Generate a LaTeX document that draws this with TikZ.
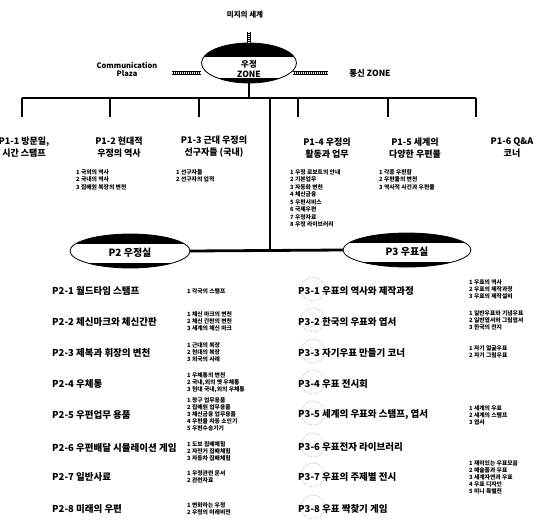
\documentclass[tikz,border=0pt]{standalone}
\usepackage{fontspec}
\setmainfont{Noto Sans CJK KR}
\usetikzlibrary{shapes.geometric}

\begin{document}
\begin{tikzpicture}[x=1pt, y=-1pt,
  every node/.style={inner sep=0pt, align=center},
  disc/.style={ellipse, fill=black, inner sep=0pt},
  rope/.style={line width=4pt},
  ropeIn/.style={white, line width=2.4pt, dash pattern=on 0.8pt off 1.2pt},
  bar/.style={line width=2.8pt},
  drop/.style={line width=2pt},
  titleT/.style={font=\fontsize{7.5}{8}\selectfont\bfseries},
  zoneT/.style={font=\fontsize{8.5}{9.5}\selectfont\bfseries},
  headP/.style={font=\fontsize{9}{12}\selectfont\bfseries, align=center},
  listP/.style={font=\fontsize{5.8}{7.5}\selectfont\bfseries, align=left, anchor=north west},
  roomL/.style={font=\fontsize{9.5}{11}\selectfont\bfseries, anchor=west},
  listR/.style={font=\fontsize{5.8}{7}\selectfont\bfseries, align=left, anchor=west},
  ring/.style={gray!70, densely dotted, line width=0.6pt}
]
\useasboundingbox (0,0) rectangle (560,523);

% TOP: ZONE
\node[titleT] (world) at (245,15) {미지의 세계};
\node[disc, minimum width=95pt, minimum height=40pt] (zone) at (249,63) {};
\begin{scope}
  \clip (249,63) ellipse (47.5pt and 20pt);
  \fill[white] (195,57) rectangle (305,78);
\end{scope}
\draw[line width=0.8pt] (249,63) ellipse (47.5pt and 20pt);
\node[zoneT] (zoneL) at (249,69) {우정\\ZONE};
\coordinate (ropeT) at (249,32);
\coordinate (ropeL) at (172,73);
\coordinate (ropeR) at (328,73);
\draw[rope] (ropeT) -- (zone.north);
\draw[ropeIn] (ropeT) -- (zone.north);
\draw[rope] (ropeL) -- (ropeL -| zone.west);
\draw[ropeIn] (ropeL) -- ([xshift=1pt]ropeL -| zone.west);
\draw[rope] (ropeR) -- ([xshift=-4pt]ropeR -| zone.east);
\draw[ropeIn] (ropeR) -- ([xshift=-4pt]ropeR -| zone.east);
\node[font=\fontsize{7.5}{8}\selectfont\bfseries] (plaza) at (127,69) {Communication\\Plaza};
\node[zoneT] (tongsin) at (370,73) {통신 ZONE};

% BAR AND DROPS
\coordinate (barL) at (22,98);
\coordinate (barR) at (476,98);
\draw[bar] (barL) -- (barR);
\draw[drop] (zone.south) -- (zone.south |- barL);
\foreach \x/\n in {22/d1,110/d2,199/d3,298/d4,388/d5,476/d6}{
  \coordinate (\n) at (\x,117);
  \draw[drop] (\n |- barL) -- (\n);
}

% ROW 1: P1
\node[headP] (p11) at (24,147) {P1-1 방문일,\\시간 스탬프};
\node[headP] (p12) at (119,147) {P1-2 현대적\\우정의 역사};
\node[headP] (p13) at (214,147) {P1-3 근대 우정의\\선구자들 (국내)};
\node[headP] (p14) at (327,148) {P1-4 우정의\\활동과 업무};
\node[headP] (p15) at (415,148) {P1-5 세계의\\다양한 우편물};
\node[headP] (p16) at (512,148) {P1-6 Q\&A\\코너};
\node[listP] (l12) at (76,169) {1 국외의 역사\\2 국내의 역사\\3 집배원 복장의 변천};
\node[listP] (l13) at (176,169) {1 선구자들\\2 선구자의 업적};
\node[listP] (l14) at (290,169) {1 우정 로보트의 안내\\2 기본업무\\3 자동화 변천\\4 체신금융\\5 우편서비스\\6 국제우편\\7 우정자료\\8 우정 라이브러리};
\node[listP] (l15) at (379,169) {1 각종 우편함\\2 우편물의 변천\\3 역사적 사건과 우편물};

% TRUNK TO P2 / P3
\coordinate (trunk) at (270,250);
\draw[bar] (trunk |- barL) -- (trunk);

\node[disc, minimum width=120pt, minimum height=34pt] (p2) at (130,251) {};
\begin{scope}
  \clip (130,251) ellipse (60pt and 17pt);
  \fill[white] (65,244) rectangle (195,263);
\end{scope}
\draw[line width=0.8pt] (130,251) ellipse (60pt and 17pt);
\node[font=\fontsize{10}{11}\selectfont\bfseries] (p2t) at (130,253) {P2 우정실};

\node[disc, minimum width=128pt, minimum height=34pt] (p3) at (407,250) {};
\begin{scope}
  \clip (407,250) ellipse (64pt and 17pt);
  \fill[white] (340,243) rectangle (475,262);
\end{scope}
\draw[line width=0.8pt] (407,250) ellipse (64pt and 17pt);
\node[font=\fontsize{10}{11}\selectfont\bfseries] (p3t) at (407,252) {P3 우표실};

\draw[bar] (p2.east) -- (p3.west);

% ROW 2: P2 ROOMS
\node[roomL] (r21) at (52,291) {P2-1 월드타임 스탬프};
\node[roomL] (r22) at (52,322) {P2-2 체신마크와 체신간판};
\node[roomL] (r23) at (52,353) {P2-3 제복과 휘장의 변천};
\node[roomL] (r24) at (52,384) {P2-4 우체통};
\node[roomL] (r25) at (52,415) {P2-5 우편업무 용품};
\node[roomL] (r26) at (52,448) {P2-6 우편배달 시뮬레이션 게임};
\node[roomL] (r27) at (52,477) {P2-7 일반사료};
\node[roomL] (r28) at (52,509) {P2-8 미래의 우편};
\node[listR] (i21) at (187,291) {1 각국의 스탬프};
\node[listR] (i22) at (187,321) {1 체신 마크의 변천\\2 체신 간판의 변천\\3 세계의 체신 마크};
\node[listR] (i23) at (187,352) {1 근대의 복장\\2 현대의 복장\\3 외국의 사례};
\node[listR] (i24) at (187,383) {1 우체통의 변천\\2 국내,외의 옛 우체통\\3 현대 국내,외의 우체통};
\node[listR] (i25) at (187,414) {1 창구 업무용품\\2 집배원 업무용품\\3 체신금융 업무용품\\4 우편물 자동 소인기\\5 우편수송기기};
\node[listR] (i26) at (187,451) {1 도보 집배체험\\2 자전거 집배체험\\3 자동차 집배체험};
\node[listR] (i27) at (187,477) {1 우정관련 문서\\2 관련자료};
\node[listR] (i28) at (187,509) {1 변화하는 우정\\2 우정의 미래비전};

% ROW 3: P3 ROOMS
\foreach \y in {289,320,351,382,413,445,475,507}
  \draw[ring] (313,\y) circle (12pt);
\node[roomL] (r31) at (298,291) {P3-1 우표의 역사와 제작과정};
\node[roomL] (r32) at (298,322) {P3-2 한국의 우표와 엽서};
\node[roomL] (r33) at (298,353) {P3-3 자기우표 만들기 코너};
\node[roomL] (r34) at (298,384) {P3-4 우표 전시회};
\node[roomL] (r35) at (298,415) {P3-5 세계의 우표와 스탬프, 엽서};
\node[roomL] (r36) at (298,447) {P3-6 우표전자 라이브러리};
\node[roomL] (r37) at (298,477) {P3-7 우표의 주제별 전시};
\node[roomL] (r38) at (298,509) {P3-8 우표 짝찾기 게임};
\node[listR] (i31) at (469,289) {1 우표의 역사\\2 우표의 제작과정\\3 우표의 제작설비};
\node[listR] (i32) at (469,320) {1 일반우표와 기념우표\\2 일반엽서와 그림엽서\\3 한국의 전지};
\node[listR] (i33) at (469,352) {1 자기 얼굴우표\\2 자기 그림우표};
\node[listR] (i35) at (469,415) {1 세계의 우표\\2 세계의 스탬프\\3 엽서};
\node[listR] (i37) at (469,477) {1 재미있는 우표모음\\2 예술품과 우표\\3 세계자연과 우표\\4 우표 디자인\\5 미니 특별전};
\end{tikzpicture}
\end{document}
